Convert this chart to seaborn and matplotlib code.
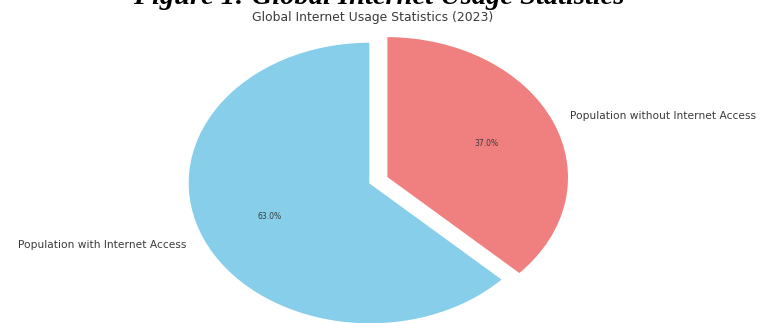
import matplotlib
matplotlib.use("Agg")
import matplotlib.pyplot as plt
import seaborn as sns

categories = ["Population with Internet Access", "Population without Internet Access"]
shares = [63.0, 37.0]
colors = ["skyblue", "lightcoral"]
explode = [0, 0.1]
title = "Global Internet Usage Statistics (2023)"
caption = "Figure 1: Global Internet Usage Statistics"

sns.set_theme(style="white")
plt.rcParams["font.family"] = ["DejaVu Sans"]

fig = plt.figure(figsize=(7.6, 3.23), dpi=100)
W, H = 760, 323
cx, cy, rx, ry = 370, 183, 182, 141
ax_w, ax_h = 2.5 * rx, 2.5 * ry
ax = fig.add_axes([(cx - ax_w / 2) / W, (H - cy - ax_h / 2) / H, ax_w / W, ax_h / H])

wedges, texts, autotexts = ax.pie(
    shares, labels=categories, colors=colors, explode=explode,
    startangle=90, autopct="%1.1f%%",
    textprops={"fontsize": 7.7, "color": "#3a3a3a"},
)
for t in autotexts:
    t.set_fontsize(5.5)
ax.set_aspect("auto")
ax.set_xlim(-1.25, 1.25)
ax.set_ylim(-1.25, 1.25)

fig.text(373 / W, (H - 17) / H, title, ha="center", va="center",
         fontsize=8.9, color="#3a3a3a")
fig.text(379 / W, (H - 4) / H, caption, ha="center", va="baseline",
         fontsize=20.5, fontweight="bold", fontstyle="italic",
         family=["Liberation Serif"], color="black")

fig.savefig("out.png", dpi=100)
